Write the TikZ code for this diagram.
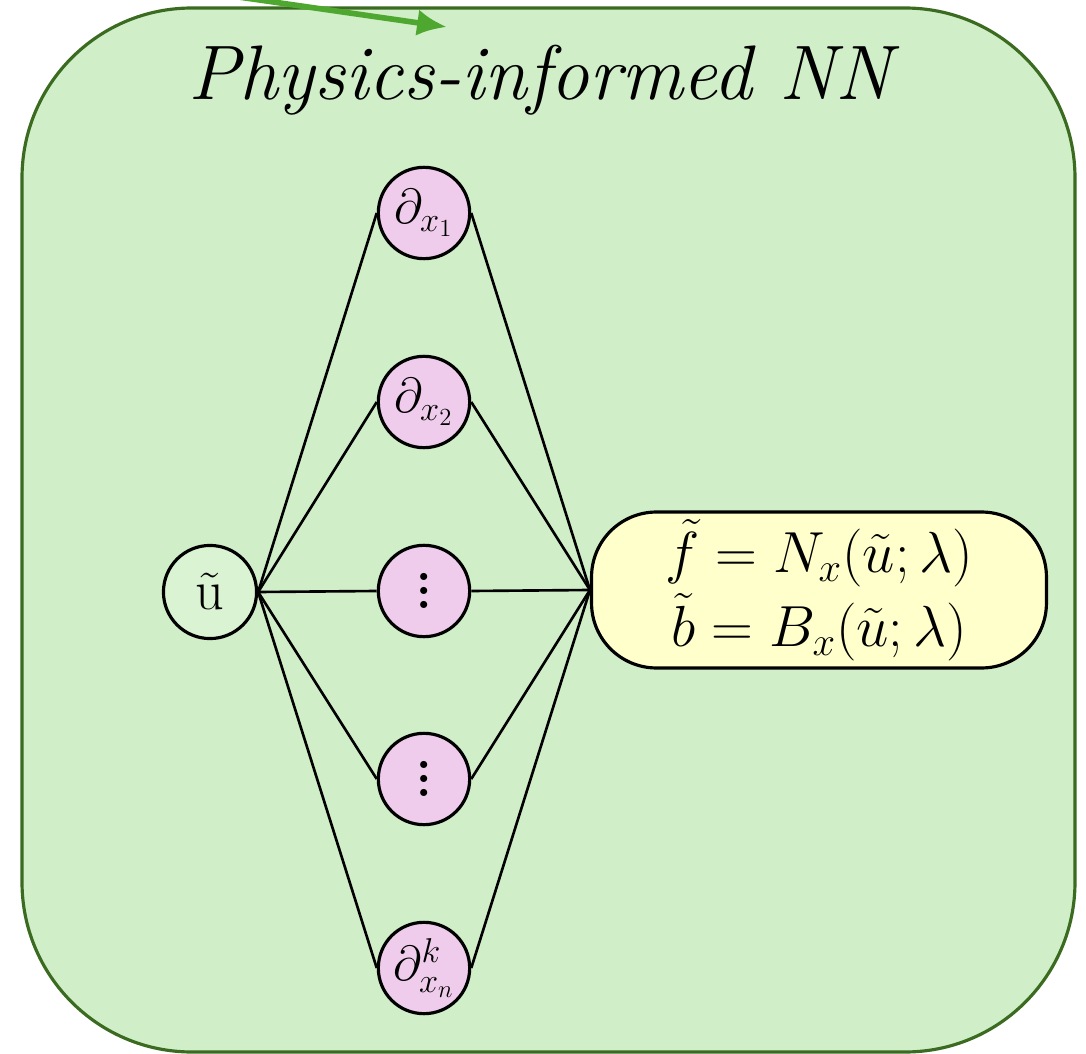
\RequirePackage{fix-cm}
\documentclass[tikz,border=0pt]{standalone}
\usepackage{amsmath,amssymb}
\usepackage[dvipsnames]{xcolor}
\usepackage{tikz}
\usetikzlibrary{arrows.meta,positioning,calc}
\definecolor{pinnbg}{HTML}{D0EEC8}
\definecolor{pinnedge}{HTML}{3A6B20}
\definecolor{pinnarrow}{HTML}{4EA72E}
\definecolor{opfill}{HTML}{F0CCEC}
\definecolor{infill}{HTML}{DAF3D3}
\definecolor{outfill}{HTML}{FFFFCC}
\newcommand{\tallvdots}{\vbox{\bfseries\baselineskip=8pt\lineskiplimit=0pt\hbox{.}\hbox{.}\hbox{.}}}

\begin{document}
\begin{tikzpicture}[>=Latex,x=0.02cm,y=-0.02cm,
  opnode/.style={circle,draw,line width=1.8pt,fill=opfill,minimum size=52pt,inner sep=0pt,font=\fontsize{28}{30}\selectfont},
  innode/.style={circle,draw,line width=1.8pt,fill=infill,minimum size=53pt,inner sep=0pt,font=\fontsize{32}{36}\selectfont},
  outnode/.style={draw,line width=1.8pt,fill=outfill,rounded corners=1.3cm,minimum width=9.1cm,minimum height=3.12cm,align=center,font=\fontsize{33}{42}\selectfont},
  conn/.style={line width=1.5pt}]
\useasboundingbox (0,0) rectangle (1086,1054);
\draw[pinnedge,fill=pinnbg,line width=1.8pt,rounded corners=3.4cm] (22,8) rectangle (1075,1052);
\coordinate (arrtail) at (190,-10);\coordinate (arrhead) at (447,27);
\draw[-{Latex[length=17pt,width=15pt]},pinnarrow,line width=3.2pt] (arrtail)--(arrhead);
\node[font=\fontsize{44}{48}\selectfont\itshape] (title) at (540,80) {Physics-informed NN};
\node[innode] (u) at (210,592) {\~{u}};
\node[opnode] (d1) at (424,213) {$\partial_{x_1}$};\node[opnode] (d2) at (424,402) {$\partial_{x_2}$};
\node[opnode] (d3) at (424,591) {\tallvdots};\node[opnode] (d4) at (424,779) {\tallvdots};
\node[opnode] (d5) at (424,968) {$\partial^k_{x_n}$};
\node[outnode] (out) at (819,590) {$\tilde f = N_x(\tilde u;\lambda)$\\$\tilde b = B_x(\tilde u;\lambda)$};
\foreach \d in {d1,d2,d3,d4,d5} {\draw[conn] (u.east)--(\d.west);\draw[conn] (\d.east)--(out.west);}
\end{tikzpicture}
\end{document}
